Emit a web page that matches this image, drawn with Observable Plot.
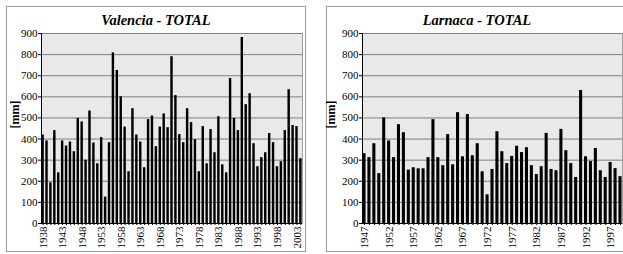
<!DOCTYPE html>
<html><head><meta charset="utf-8">
<script src="https://cdn.jsdelivr.net/npm/d3@7"></script>
<script src="https://cdn.jsdelivr.net/npm/@observablehq/plot@0.6"></script>
<style>
body{margin:0;background:#fff;}
#wrap{position:relative;width:623px;height:254px;overflow:hidden;font-family:'Liberation Serif','Times New Roman',Tinos,'DejaVu Serif',serif;}
.panel{position:absolute;border:1px solid #9a9a9a;box-sizing:border-box;}
.title{position:absolute;font-weight:bold;font-style:italic;font-size:14.5px;text-align:center;line-height:14.5px;color:#000;}
.chart{position:absolute;top:0;}
svg text{font-family:'Liberation Serif','Times New Roman',Tinos,'DejaVu Serif',serif !important;}
</style></head><body>
<div id="wrap">
  <div class="panel" style="left:6px;top:6px;width:300px;height:246px"></div>
  <div class="panel" style="left:326px;top:6px;width:302px;height:246px"></div>
  <div class="chart" id="c1" style="left:0px"></div>
  <div class="chart" id="c2" style="left:313px"></div>
  <div class="title" style="left:6px;top:13px;width:300px">Valencia - TOTAL</div>
  <div class="title" style="left:326px;top:13px;width:302px">Larnaca - TOTAL</div>
</div>
<script>
const yTicks = [0,100,200,300,400,500,600,700,800,900];

const valenciaYears = d3.range(1938, 2005);
const valenciaValues = [419,391,193,440,240,391,367,386,340,498,
  481,300,533,381,283,407,125,383,808,725,
  600,457,245,544,419,386,264,492,509,364,
  457,519,454,790,606,421,383,544,478,397,
  245,459,283,445,335,506,278,240,687,498,
  440,881,563,615,378,269,312,335,426,383,
  269,293,440,634,464,459,307];
const valenciaTicks = [1938,1943,1948,1953,1958,1963,1968,1973,1978,1983,1988,1993,1998,2003];

const larnacaYears = d3.range(1947, 2000);
const larnacaValues = [331,312,378,236,500,391,312,468,430,253,
  264,259,259,312,492,312,274,421,278,525,
  316,516,321,378,245,136,256,435,340,284,
  318,366,336,359,274,232,269,427,256,250,
  446,345,284,218,630,316,294,355,250,218,
  289,260,222];
const larnacaTicks = [1947,1952,1957,1962,1967,1972,1977,1982,1987,1992,1997];

function chart(years, values, ticks, opts) {
  const data = years.map((y, i) => ({year: y, value: values[i]}));
  return Plot.plot({
    width: opts.width, height: 254,
    marginLeft: opts.marginLeft, marginRight: opts.marginRight,
    marginTop: 33, marginBottom: 31,
    style: {fontFamily: "'Liberation Serif', 'Times New Roman', serif", fontSize: "11px", color: "#000", background: "transparent", overflow: "visible"},
    x: {type: "band", domain: years, paddingInner: 0.38, paddingOuter: 0.1},
    y: {domain: [0, 900]},
    marks: [
      Plot.frame({fill: "#e9e9e9", stroke: "#a0a0a0"}),
      Plot.gridY(yTicks, {stroke: "#7f7f7f", strokeOpacity: 1}),
      Plot.barY(data, {x: "year", y: "value", fill: "#000"}),
      Plot.frame({anchor: "left", stroke: "#000"}),
      Plot.ruleY([0], {stroke: "#000"}),
      Plot.axisY(yTicks, {tickSize: 3, tickPadding: 1, label: null, fontSize: 11, tickFormat: d => String(d)}),
      Plot.axisX(years, {tickSize: 2, tickFormat: () => "", label: null}),
      Plot.axisX(ticks, {tickSize: 0, tickPadding: 3, tickRotate: -90, label: null, fontSize: 11, tickFormat: d => String(d)}),
      Plot.text(["[mm]"], {text: d => d, frameAnchor: "left", dx: opts.labelDx, rotate: -90, fontWeight: "bold", fontSize: 12})
    ]
  });
}

document.getElementById("c1").appendChild(chart(valenciaYears, valenciaValues, valenciaTicks, {width: 310, marginLeft: 41, marginRight: 8, labelDx: -26}));
document.getElementById("c2").appendChild(chart(larnacaYears, larnacaValues, larnacaTicks, {width: 310, marginLeft: 49, marginRight: 1, labelDx: -31}));
</script>
</body></html>
